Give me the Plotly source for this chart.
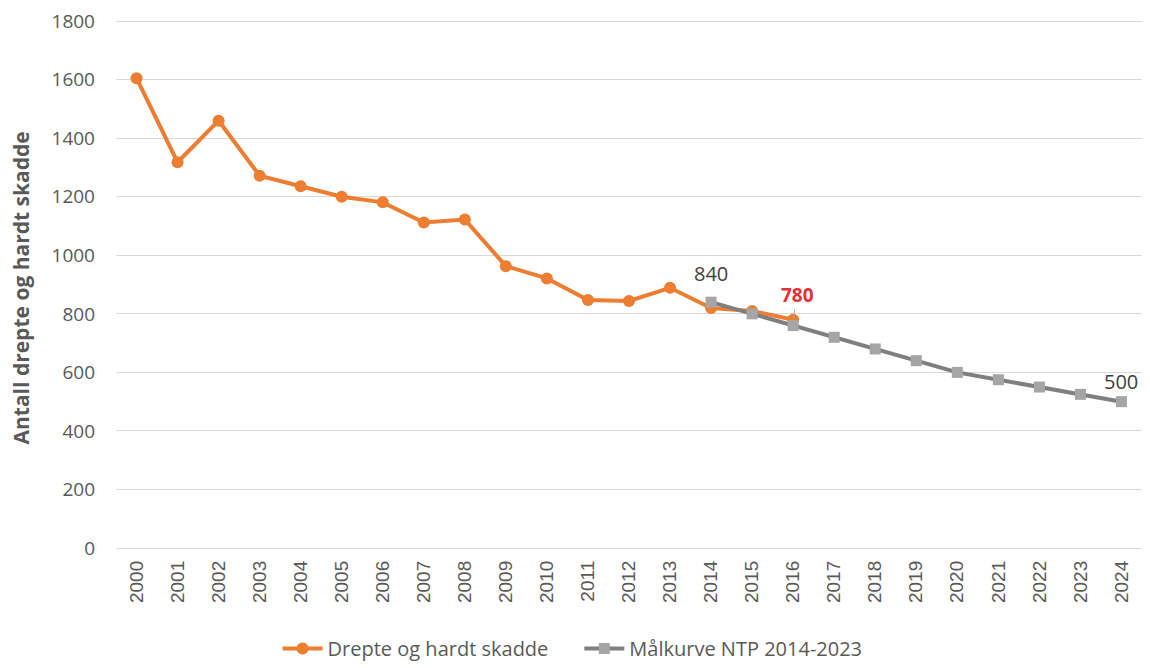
import plotly.graph_objects as go

years = [str(y) for y in range(2000, 2025)]
actual_years = [str(y) for y in range(2000, 2017)]
actual_values = [1605, 1318, 1460, 1272, 1236, 1200, 1181, 1112, 1122, 963, 921, 847, 844, 889, 820, 810, 780]
target_years = [str(y) for y in range(2014, 2025)]
target_values = [840, 800, 760, 720, 680, 640, 600, 575, 550, 525, 500]
y_ticks = list(range(0, 1801, 200))

FONT = "Open Sans"
TICKFONT_X = "Liberation Sans"
TXT = "#595959"
ORANGE = "#ED7D31"
GRAY_LINE = "#7F7F7F"
GRAY_MARK = "#A5A5A5"

fig = go.Figure()
fig.add_trace(go.Scatter(
    x=actual_years, y=actual_values, mode="lines+markers",
    name="Drepte og hardt skadde" + "\u00a0" * 5,
    line=dict(color=ORANGE, width=4),
    marker=dict(symbol="circle", size=12, color=ORANGE),
))
fig.add_trace(go.Scatter(
    x=target_years, y=target_values, mode="lines+markers",
    name="Målkurve NTP 2014-2023",
    line=dict(color=GRAY_LINE, width=4),
    marker=dict(symbol="square", size=11, color=GRAY_MARK),
))

fig.add_annotation(
    xref="x", yref="y", x=years.index(target_years[0]), y=target_values[0],
    text=str(target_values[0]), showarrow=False, yshift=29,
    font=dict(family=FONT, size=20, color="#404040"))
fig.add_annotation(
    xref="x", yref="y", x=years.index(target_years[-1]), y=target_values[-1],
    text=str(target_values[-1]), showarrow=False, yshift=20,
    font=dict(family=FONT, size=20, color="#404040"))
fig.add_annotation(
    xref="x", yref="y", x=years.index(actual_years[-1]), y=actual_values[-1],
    text="<b>%d</b>" % actual_values[-1], showarrow=True, arrowhead=0,
    arrowwidth=1, arrowcolor="#A6A6A6", ax=4, ay=-25,
    font=dict(family=FONT, size=19, color="#E8303A"))
fig.add_annotation(
    xref="paper", yref="paper", x=-0.0926, y=0.4934, xanchor="center", yanchor="middle",
    text="<b>Antall drepte og hardt skadde</b>", textangle=-90, showarrow=False,
    font=dict(family=FONT, size=21, color=TXT))

# the page body has an 8px default margin, so the figure sits 8px right/down;
# keep it narrow enough not to overflow the window horizontally
fig.update_layout(
    width=1134, height=660,
    margin=dict(l=108, r=0, t=12, b=120),
    paper_bgcolor="white", plot_bgcolor="white",
    font=dict(family=FONT, color=TXT, size=17),
    showlegend=True,
    legend=dict(orientation="h", x=0.445, xanchor="center", y=-0.2277, yanchor="bottom",
                font=dict(family=FONT, size=20, color=TXT), itemwidth=40,
                borderwidth=0),
)
fig.update_xaxes(
    type="category", categoryorder="array", categoryarray=years,
    range=[-0.5, len(years) - 0.5], automargin=False,
    tickangle=-90, tickfont=dict(family=TICKFONT_X, size=19, color=TXT),
    showgrid=False, showline=False, zeroline=False,
    ticks="", ticklabelstandoff=8,
)
fig.update_yaxes(
    range=[0, y_ticks[-1] + 4], tickvals=y_ticks, automargin=False,
    ticklabeloverflow="allow",
    tickfont=dict(family=FONT, size=19, color=TXT),
    showgrid=True, gridcolor="#D9D9D9", gridwidth=1,
    zeroline=True, zerolinecolor="#D9D9D9", zerolinewidth=1,
    showline=False, ticks="", ticklabelstandoff=20,
)

fig.write_html("out.html")
